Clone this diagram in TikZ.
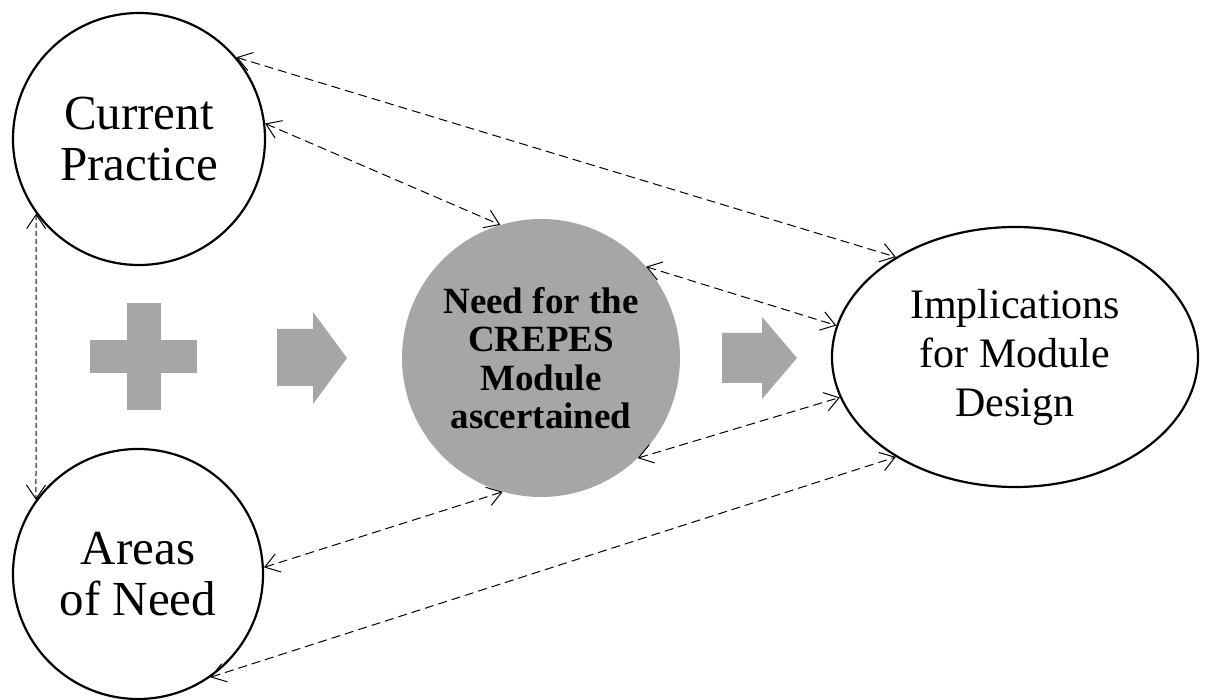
\documentclass[tikz,border=0pt]{standalone}
\usepackage{fontspec}
\setmainfont{Liberation Serif}
\usetikzlibrary{shapes.geometric,arrows.meta}
\definecolor{shade}{RGB}{166,166,166}
\begin{document}
\begin{tikzpicture}[x=1pt,y=-1pt,
  bubble/.style={circle,draw=black,line width=2.2pt,inner sep=0pt,align=center,
    font=\fontsize{49}{51}\selectfont},
  core/.style={circle,fill=shade,inner sep=0pt,minimum size=278pt,align=center,
    font=\bfseries\fontsize{37}{38.5}\selectfont},
  oval/.style={ellipse,draw=black,line width=2.2pt,inner sep=0pt,
    minimum width=366pt,minimum height=260pt,align=center,
    font=\fontsize{42}{49}\selectfont},
  link/.style={draw=black,line width=1pt,dash pattern=on 9pt off 5pt,
    >={Straight Barb[length=14pt,width=19pt]},<->},
  block/.style={fill=shade}
]
\useasboundingbox (0,0) rectangle (1208,700);

% the four stages
\node[bubble,minimum size=252pt] (cp) at (139,139) {Current\\Practice};
\node[bubble,minimum size=250pt] (an) at (138,574) {Areas\\of Need};
\node[core] (nd) at (541,358) {Need for the\\CREPES\\Module\\ascertained};
\node[oval] (im) at (1015,357) {Implications\\for Module\\Design};

% plus sign and block arrows
\fill[block] (127,303) rectangle (161,410);
\fill[block] (90,340) rectangle (197,373);
\fill[block] (277,329) -- (313,329) -- (313,312) -- (347,358) -- (313,404)
  -- (313,386) -- (277,386) -- cycle;
\fill[block] (722,333) -- (762,333) -- (762,317) -- (797,358) -- (762,399)
  -- (762,383) -- (722,383) -- cycle;

% two-way relations
\draw[link] (cp.40) -- (im.140);
\draw[link] (cp.7) -- (nd.107);
\draw[link] (nd.41) -- (im.170);
\draw[link] (nd.-46) -- (im.193);
\draw[link] (an.3) -- (nd.254);
\draw[link] (an.-55) -- (im.220);
\draw[link,dash pattern=on 5pt off 3pt] (cp.216) -- (an.144);
\end{tikzpicture}
\end{document}
